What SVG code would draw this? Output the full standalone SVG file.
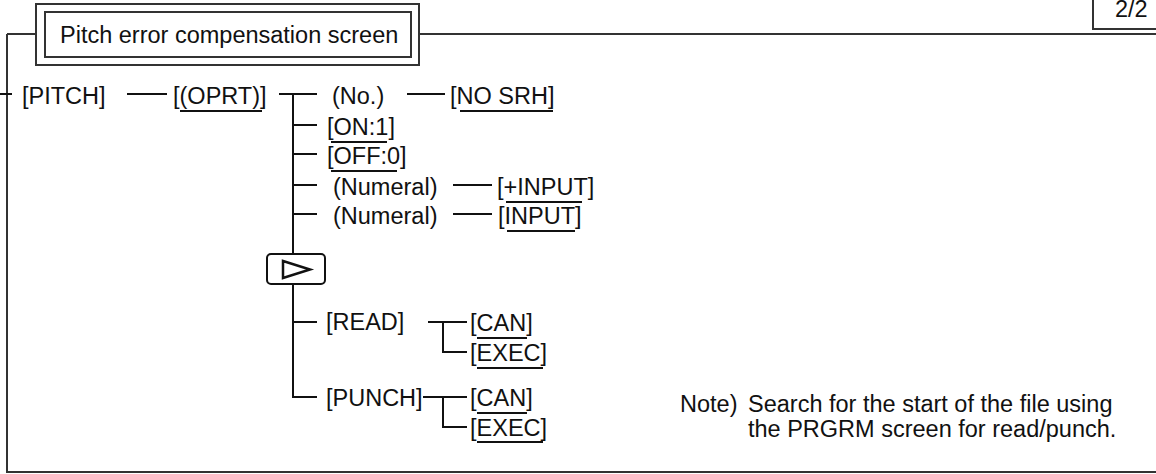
<svg xmlns="http://www.w3.org/2000/svg" width="1156" height="474" viewBox="0 0 1156 474">
<style>
text{font-family:"Liberation Sans",Arial,sans-serif;font-size:23.5px;fill:#111}
.ln{stroke:#111;stroke-width:2;fill:none}
.fr{stroke:#333;stroke-width:2;fill:none}
.ul{stroke:#111;stroke-width:2}
</style>
<rect width="1156" height="474" fill="#fff"/>
<g id="frame">
<path class="fr" d="M7,34 V472 H1156"/>
<path class="fr" d="M7,34 H36 M419,34 H1156"/>
<path class="fr" d="M1093,0 V29 H1156"/>
<text x="1115" y="17">2/2</text>
</g>
<g id="title">
<rect class="fr" x="36" y="4" width="383" height="61"/>
<rect class="fr" x="45" y="12" width="366" height="45"/>
<text x="60" y="43">Pitch error compensation screen</text>
</g>
<g id="connectors">
<path class="ln" d="M0,94 H12"/>
<path class="ln" d="M127,94 H167"/>
<path class="ln" d="M279,94 H317 M293,94 V254 M293,284 V397 H317"/>
<path class="ln" d="M407,94 H445"/>
<path class="ln" d="M293,125 H317 M293,154 H317 M293,185 H317 M293,214 H317"/>
<path class="ln" d="M453,185 H492 M453,214 H492"/>
<path class="ln" d="M293,322 H317"/>
<path class="ln" d="M428,322 H467 M443,322 V352 H467"/>
<path class="ln" d="M423,397 H467 M443,397 V427 H467"/>
</g>
<g id="pitch"><text x="22" y="104">[PITCH]</text></g>
<g id="oprt"><text x="173" y="104">[(OPRT)]</text><line class="ul" x1="180" y1="111" x2="262" y2="111"/></g>
<g id="no"><text x="332" y="104">(No.)</text></g>
<g id="nosrh"><text x="450" y="104">[NO SRH]</text><line class="ul" x1="460" y1="111" x2="553" y2="111"/></g>
<g id="on1"><text x="327" y="135">[ON:1]</text><line class="ul" x1="331" y1="142" x2="387" y2="142"/></g>
<g id="off0"><text x="327" y="164">[OFF:0]</text><line class="ul" x1="331" y1="171" x2="397" y2="171"/></g>
<g id="numeral1"><text x="333" y="195">(Numeral)</text></g>
<g id="pinput"><text x="497" y="195">[+INPUT]</text><line class="ul" x1="506" y1="202" x2="582" y2="202"/></g>
<g id="numeral2"><text x="333" y="224">(Numeral)</text></g>
<g id="input"><text x="498" y="224">[INPUT]</text><line class="ul" x1="507" y1="231" x2="575" y2="231"/></g>
<g id="next">
<rect x="267" y="254" width="58" height="30" rx="4" class="ln"/>
<polygon points="283,261 310,269.5 283,278" fill="none" stroke="#111" stroke-width="2.5"/>
</g>
<g id="read"><text x="326" y="330">[READ]</text></g>
<g id="can1"><text x="470" y="331">[CAN]</text><line class="ul" x1="477" y1="338" x2="527" y2="338"/></g>
<g id="exec1"><text x="470" y="361">[EXEC]</text><line class="ul" x1="477" y1="368" x2="543" y2="368"/></g>
<g id="punch"><text x="326" y="406">[PUNCH]</text></g>
<g id="can2"><text x="470" y="406">[CAN]</text><line class="ul" x1="477" y1="413" x2="527" y2="413"/></g>
<g id="exec2"><text x="470" y="436">[EXEC]</text><line class="ul" x1="477" y1="442" x2="543" y2="442"/></g>
<g id="note">
<text x="680" y="412">Note)</text>
<text x="748" y="412">Search for the start of the file using</text>
<text x="748" y="437">the PRGRM screen for read/punch.</text>
</g>
</svg>
